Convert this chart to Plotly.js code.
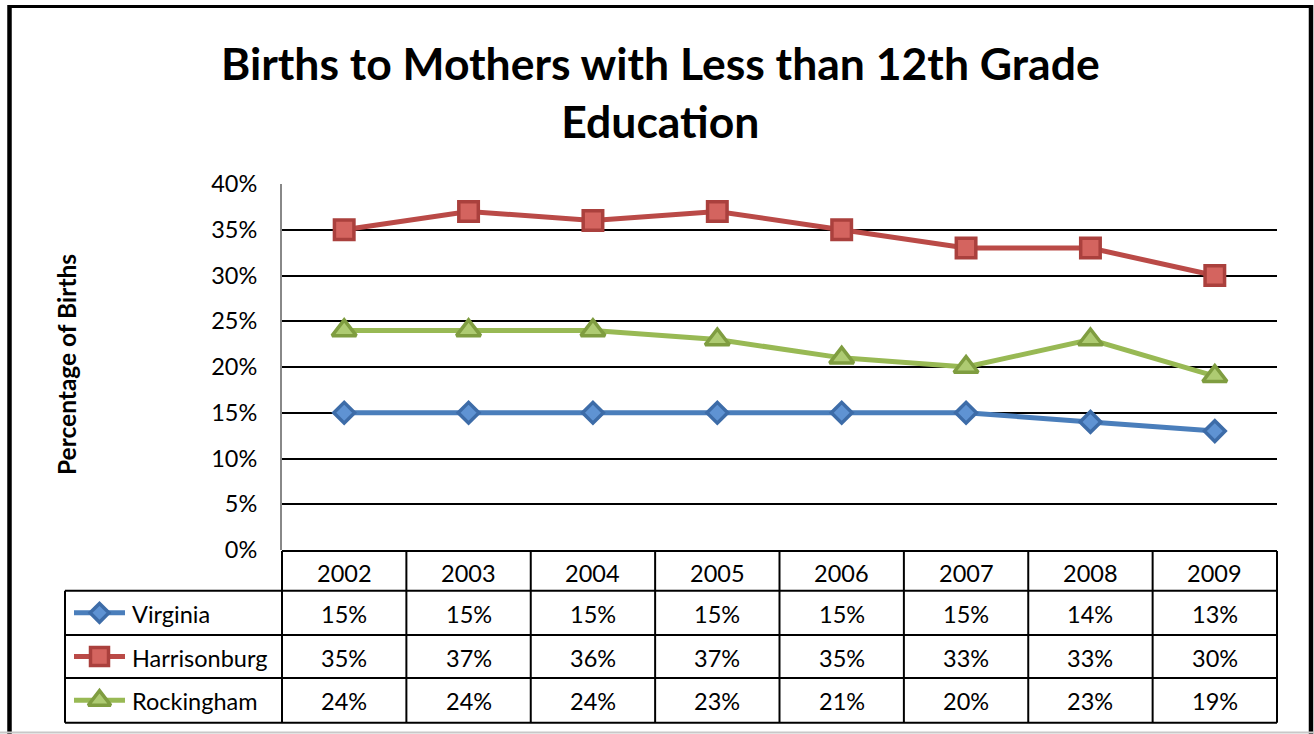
<!DOCTYPE html>
<html>
<head>
<meta charset="utf-8">
<script src="https://cdn.plot.ly/plotly-3.0.1.min.js"></script>
<style>html,body{margin:0;padding:0;background:#fff;}#chart{width:1314px;height:734px;}</style>
</head>
<body>
<div id="chart"></div>
<script>
// ---- data ----
const years = ['2002','2003','2004','2005','2006','2007','2008','2009'];
const seriesNames = ['Virginia','Harrisonburg','Rockingham'];
const virginia     = [0.15,0.15,0.15,0.15,0.15,0.15,0.14,0.13];
const harrisonburg = [0.35,0.37,0.36,0.37,0.35,0.33,0.33,0.30];
const rockingham   = [0.24,0.24,0.24,0.23,0.21,0.20,0.23,0.19];
const yTickVals = [0,0.05,0.10,0.15,0.20,0.25,0.30,0.35,0.40];

// ---- styling ----
const W = 1314, H = 734;
const px = x => x / W;
const py = y => 1 - y / H;
const FONT = 'Lato, Carlito, "Open Sans", sans-serif';
const TXT = 23.5;
const styles = [
  {line:'#4A7EBB', fill:'#5F93D3', border:'#3D6CA8', symbol:'diamond', size:16},
  {line:'#BA4A47', fill:'#D4645F', border:'#AA403D', symbol:'square', size:19.5},
  {line:'#98B954', fill:'#AECB72', border:'#7F9D40', symbol:'triangle-up', size:21}
];
const allSeries = [virginia, harrisonburg, rockingham];

// plot area in pixels
const PL = 282, PR = 1277, PT = 184, PB = 550;
// table rows in pixels
const rowY = [551, 590.7, 635, 678, 722.7];
const tableLeft = 65;

const traces = allSeries.map((vals, i) => ({
  type:'scatter', mode:'lines+markers', name: seriesNames[i],
  x: years, y: vals, xaxis:'x', yaxis:'y',
  line:{color: styles[i].line, width:5},
  marker:{symbol: styles[i].symbol, size: styles[i].size, color: styles[i].fill, opacity:1,
          line:{color: styles[i].border, width:3.5}},
  hoverinfo:'skip', showlegend:false, cliponaxis:false
}));

// legend keys inside table (pixel overlay axes)
seriesNames.forEach((n, i) => {
  const cy = (rowY[i+1] + rowY[i+2]) / 2;
  traces.push({
    type:'scatter', mode:'lines+markers', x:[74, 99.5, 125], y:[cy, cy, cy],
    xaxis:'x2', yaxis:'y2',
    line:{color: styles[i].line, width:5},
    marker:{symbol: styles[i].symbol, size:[0, styles[i].size - 1.5, 0], color: styles[i].fill, opacity:1,
            line:{color: styles[i].border, width:[0, 3.5, 0]}},
    hoverinfo:'skip', showlegend:false, cliponaxis:false
  });
});

const shapes = [];
const line = (x0,y0,x1,y1,color,width,xref) => shapes.push({
  type:'line', xref: xref || 'paper', yref:'paper',
  x0: xref === 'x' ? x0 : px(x0), x1: xref === 'x' ? x1 : px(x1),
  y0: py(y0), y1: py(y1), line:{color:color, width:width}, layer:'above'
});
// outer border
line(9.5, 5, 9.5, 734, '#000', 4.5);
line(8, 6.5, 1312, 6.5, '#000', 3);
line(1311, 5, 1311, 734, '#000', 4.5);
line(0, 732.5, 1314, 732.5, '#c8c8c8', 2);
// table grid
line(PL, rowY[0], PR, rowY[0], '#000', 2);
for (let r = 1; r < rowY.length; r++) line(tableLeft, rowY[r], PR, rowY[r], '#000', 2);
line(tableLeft, rowY[1], tableLeft, rowY[4], '#000', 2);
line(PL, rowY[0], PL, rowY[4], '#000', 2);
line(PR, rowY[0], PR, rowY[4], '#000', 2);
for (let i = 0; i < years.length - 1; i++) line(i + 0.5, rowY[0], i + 0.5, rowY[4], '#000', 2, 'x');

const annotations = [];
const ann = o => annotations.push(Object.assign({showarrow:false, xanchor:'center', yanchor:'middle'}, o));
// title
ann({xref:'paper', yref:'paper', x:px(660), y:py(92),
  text:'<b>Births to Mothers with Less than 12th Grade<br>Education</b>',
  font:{family:FONT, size:44.5, color:'#000'}});
// y axis title
ann({xref:'paper', yref:'paper', x:px(66), y:py(365),
  text:'<b>Percentage of Births</b>', textangle:-90,
  font:{family:FONT, size:24.5, color:'#000'}});
// table header
years.forEach((yr, j) => ann({xref:'x', yref:'paper', x:j, y:py((rowY[0]+rowY[1])/2 + 2),
  text: yr, font:{family:FONT, size:TXT, color:'#000'}}));
// table rows
allSeries.forEach((vals, i) => {
  const cy = (rowY[i+1] + rowY[i+2]) / 2 + 1;
  ann({xref:'paper', yref:'paper', x:px(130), y:py(cy), xanchor:'left',
    text: seriesNames[i], font:{family:FONT, size:TXT, color:'#000'}});
  vals.forEach((v, j) => ann({xref:'x', yref:'paper', x:j, y:py(cy),
    text: Math.round(v*100) + '%', font:{family:FONT, size:TXT, color:'#000'}}));
});

const layout = {
  width:W, height:H, margin:{l:0,r:0,t:0,b:0},
  paper_bgcolor:'#fff', plot_bgcolor:'rgba(0,0,0,0)',
  showlegend:false,
  xaxis:{type:'category', domain:[px(PL), px(PR)], range:[-0.5, years.length - 0.5],
    showticklabels:false, showgrid:false, zeroline:false, showline:false, ticks:''},
  yaxis:{domain:[py(PB), py(PT)], range:[0, 0.4], tickvals:yTickVals, tickformat:'.0%',
    showgrid:true, gridcolor:'#000', gridwidth:2, zeroline:false,
    showline:true, linecolor:'#888', linewidth:2,
    ticks:'outside', ticklen:18, tickcolor:'rgba(0,0,0,0)',
    tickfont:{family:FONT, size:TXT, color:'#000'}},
  xaxis2:{domain:[0,1], range:[0,W], visible:false, fixedrange:true, anchor:'y2'},
  yaxis2:{domain:[0,1], range:[H,0], visible:false, fixedrange:true, anchor:'x2'},
  shapes:shapes, annotations:annotations
};

Plotly.newPlot('chart', traces, layout, {staticPlot:true, displayModeBar:false});
</script>
</body>
</html>
